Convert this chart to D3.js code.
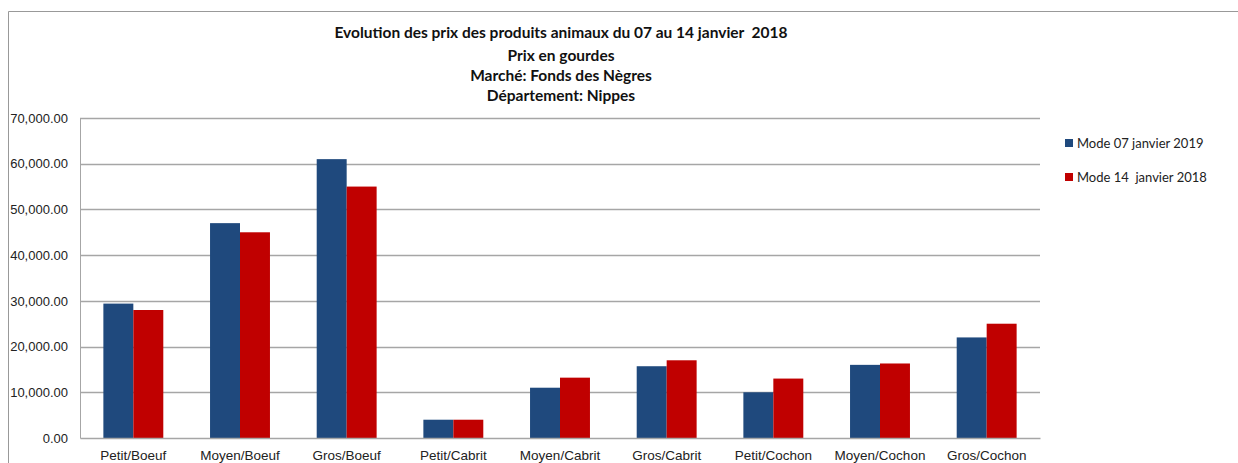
<!DOCTYPE html>
<html><head><meta charset="utf-8">
<script src="https://cdn.jsdelivr.net/npm/d3@7"></script>
<style>body{margin:0;background:#fff;} svg{display:block;font-family:Lato,"Open Sans",sans-serif;} text{white-space:pre;}</style>
</head><body>
<svg id="c" width="1238" height="463"></svg>
<script>
const categories = ["Petit/Boeuf","Moyen/Boeuf","Gros/Boeuf","Petit/Cabrit","Moyen/Cabrit","Gros/Cabrit","Petit/Cochon","Moyen/Cochon","Gros/Cochon"];
const seriesNames = ["Mode 07 janvier 2019","Mode 14  janvier 2018"];
const mode07 = [29400, 47000, 61000, 4000, 11000, 15700, 10000, 16000, 22000];
const mode14 = [28000, 45000, 55000, 4000, 13200, 17000, 13000, 16300, 25000];
const yTicks = [0,10000,20000,30000,40000,50000,60000,70000];
const titleLines = ["Evolution des prix des produits animaux du 07 au 14 janvier  2018","Prix en gourdes","Marché: Fonds des Nègres","Département: Nippes"];
const colors = ["#1F497D","#C00000"];

const svg = d3.select("#c");
svg.append("path").attr("d","M8.5,463 L8.5,11.5 L1238,11.5").attr("fill","none").attr("stroke","#999").attr("stroke-width",1);

const L=80, R=1040, T=118, B=438;
const x = d3.scaleBand().domain(categories).range([L,R]).paddingInner(0).paddingOuter(0);
const xs = d3.scaleBand().domain([0,1]).range([0,x.bandwidth()]).paddingInner(0).paddingOuter(0.78);
const y = d3.scaleLinear().domain([0,70000]).range([B,T]);

svg.append("g").selectAll("line").data(yTicks.filter(d=>d>0)).join("line")
  .attr("x1",L).attr("x2",R).attr("y1",d=>Math.round(y(d))+0.5).attr("y2",d=>Math.round(y(d))+0.5)
  .attr("stroke","#a6a6a6").attr("stroke-width",1.5);

const yAxis = d3.axisLeft(y).tickValues(yTicks).tickSize(0).tickPadding(12).tickFormat(d3.format(",.2f"));
const gy = svg.append("g").attr("transform",`translate(${L},0)`).call(yAxis);
gy.select(".domain").attr("stroke","#a6a6a6");
gy.selectAll("text").attr("font-size",13).attr("fill","#222");

const data = categories.map((c,i)=>({c, v:[mode07[i],mode14[i]]}));
const g = svg.append("g");
g.selectAll("g").data(data).join("g").attr("transform",d=>`translate(${x(d.c)},0)`)
  .selectAll("rect").data(d=>d.v.map((v,k)=>({v,k}))).join("rect")
  .attr("x",d=>xs(d.k)).attr("width",xs.bandwidth())
  .attr("y",d=>y(d.v)).attr("height",d=>B-y(d.v)).attr("fill",d=>colors[d.k]);

const xAxis = d3.axisBottom(x).tickSize(0).tickPadding(12);
const gx = svg.append("g").attr("transform",`translate(0,${B})`).call(xAxis);
gx.select(".domain").attr("stroke","#a6a6a6").attr("stroke-width",1.5);
gx.selectAll("text").attr("font-size",13.5).attr("fill","#222");

const tys=[38,61,81,101];
svg.append("g").selectAll("text").data(titleLines).join("text")
  .attr("x",561).attr("y",(d,i)=>tys[i]).attr("text-anchor","middle")
  .attr("font-weight","bold").attr("font-size",15.5).attr("fill","#111").text(d=>d);

const lg = svg.append("g").selectAll("g").data(seriesNames).join("g")
  .attr("transform",(d,i)=>`translate(1065,${143+i*34})`);
lg.append("rect").attr("x",0).attr("y",-4).attr("width",8).attr("height",8).attr("fill",(d,i)=>colors[i]);
lg.append("text").attr("x",12).attr("y",4.5).attr("font-size",13).attr("fill","#222").text(d=>d);
</script>
</body></html>
